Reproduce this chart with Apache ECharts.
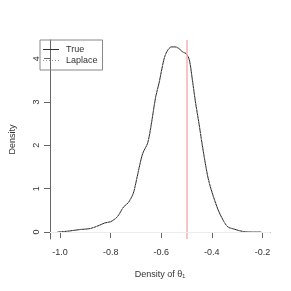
<!DOCTYPE html>
<html><head><meta charset="utf-8">
<script src="https://cdn.jsdelivr.net/npm/echarts@6/dist/echarts.min.js"></script>
<style>html,body{margin:0;padding:0;background:#fff}#c{width:291px;height:291px}</style>
</head><body><div id="c"></div>
<script>
const xValues = [-1.01,-0.97,-0.919,-0.881,-0.843,-0.824,-0.80,-0.774,-0.749,-0.73,-0.711,-0.698,-0.685,-0.673,-0.654,-0.641,-0.622,-0.609,-0.59,-0.578,-0.56,-0.545,-0.527,-0.515,-0.502,-0.489,-0.477,-0.464,-0.451,-0.439,-0.426,-0.413,-0.394,-0.375,-0.356,-0.337,-0.313,-0.275,-0.24,-0.205];
const trueDensity = [0,0.02,0.06,0.08,0.16,0.21,0.24,0.35,0.58,0.68,0.89,1.2,1.55,1.82,2.05,2.43,3.12,3.43,3.97,4.16,4.27,4.27,4.22,4.15,4.12,3.97,3.51,2.97,2.51,2.05,1.59,1.2,0.82,0.51,0.28,0.12,0.07,0.01,0.0,0.0];
const laplaceDensity = trueDensity.slice();
const xTicks = [-1.0,-0.8,-0.6,-0.4,-0.2];
const yTicks = [0,1,2,3,4];
const trueValue = -0.5;

const font = 'Liberation Sans, Arial, sans-serif';
const txt = '#333';
const solidIcon = 'path://M0 0h16v1h-16z';
const dotIcon = 'path://M0 0h1v1h-1z M3 0h1v1h-1z M6 0h1v1h-1z M9 0h1v1h-1z M12 0h1v1h-1z M15 0h1v1h-1z';
const chart = echarts.init(document.getElementById('c'), null, {renderer:'canvas'});
chart.setOption({
  animation:false,
  backgroundColor:'#fff',
  grid:{left:40,right:21,top:40,bottom:52},
  legend:{
    left:40, top:40, orient:'vertical', itemGap:2, itemWidth:16, itemHeight:1,
    padding:[5,5,5,3], borderColor:'#888', borderWidth:1,
    textStyle:{fontFamily:font,fontSize:9,color:txt,padding:[0,0,0,2],lineHeight:9},
    data:[{name:'True',icon:solidIcon,itemStyle:{color:'#333'}},
          {name:'Laplace',icon:dotIcon,itemStyle:{color:'#999'}}]
  },
  xAxis:{
    type:'value', min:-1.04, max:-0.17,
    name:'Density of θ\u2081', nameLocation:'middle', nameGap:31,
    nameTextStyle:{fontFamily:font,fontSize:9,color:txt},
    axisLine:{show:true,lineStyle:{color:'#666',width:1}},
    axisTick:{show:true,length:6,inside:false,lineStyle:{color:'#666'},customValues:xTicks},
    axisLabel:{fontFamily:font,fontSize:9,color:txt,margin:9,customValues:xTicks,formatter:v=>v.toFixed(1)},
    splitLine:{show:false}
  },
  yAxis:{
    type:'value', min:-0.16, max:4.43,
    name:'Density', nameLocation:'middle', nameGap:33,
    nameTextStyle:{fontFamily:font,fontSize:9,color:txt},
    axisLine:{show:true,lineStyle:{color:'#666',width:1}},
    axisTick:{show:true,length:6,lineStyle:{color:'#666'},customValues:yTicks},
    axisLabel:{fontFamily:font,fontSize:9,color:txt,margin:9,rotate:90,customValues:yTicks},
    splitLine:{show:false}
  },
  series:[
    {name:'True',type:'line',symbol:'none',smooth:0.3,
     itemStyle:{color:'#333'},
     lineStyle:{color:'#222',width:1},
     data:xValues.map((x,i)=>[x,trueDensity[i]]),
     markLine:{silent:true,symbol:'none',label:{show:false},
       data:[{xAxis:trueValue,lineStyle:{color:'#f3b3b3',width:1.5,type:'solid'}},
             {yAxis:0,lineStyle:{color:'#ececec',width:1,type:'solid'}}]}
    },
    {name:'Laplace',type:'line',symbol:'none',smooth:0.3,
     itemStyle:{color:'#999'},
     lineStyle:{color:'#aaa',width:1,type:[1,2]},
     data:xValues.map((x,i)=>[x,laplaceDensity[i]])}
  ]
});
</script></body></html>
